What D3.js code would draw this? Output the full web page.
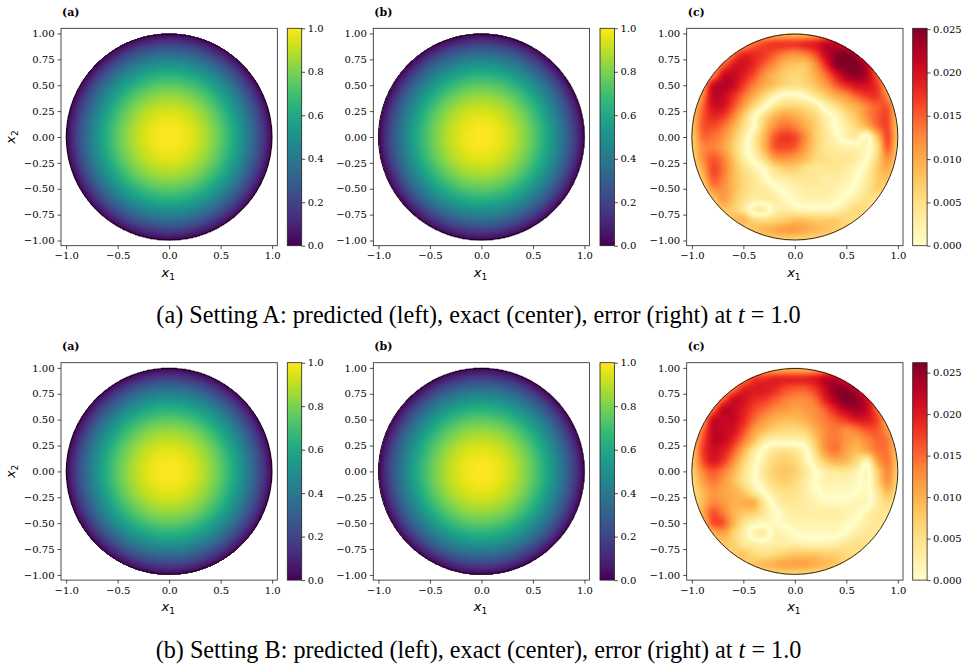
<!DOCTYPE html>
<html><head><meta charset="utf-8">
<script src="https://cdn.jsdelivr.net/npm/d3@7"></script>
<style>body{margin:0;background:#fff}svg{display:block}</style>
</head><body>
<script>
// ---------------- data ----------------
const radii      = [0, 0.1, 0.2, 0.3, 0.4, 0.5, 0.6, 0.7, 0.8, 0.9, 1.0];
const predictedA = [1.0, 0.99, 0.96, 0.91, 0.84, 0.75, 0.64, 0.51, 0.36, 0.19, 0.0];
const exactA     = [1.0, 0.99, 0.96, 0.91, 0.84, 0.75, 0.64, 0.51, 0.36, 0.19, 0.0];
const predictedB = [1.0, 0.99, 0.96, 0.91, 0.84, 0.75, 0.64, 0.51, 0.36, 0.19, 0.0];
const exactB     = [1.0, 0.99, 0.96, 0.91, 0.84, 0.75, 0.64, 0.51, 0.36, 0.19, 0.0];

const gridX = [-1.0,-0.9,-0.8,-0.7,-0.6,-0.5,-0.4,-0.3,-0.2,-0.1,0.0,0.1,0.2,0.3,0.4,0.5,0.6,0.7,0.8,0.9,1.0];
const gridY = [1.0,0.9,0.8,0.7,0.6,0.5,0.4,0.3,0.2,0.1,0.0,-0.1,-0.2,-0.3,-0.4,-0.5,-0.6,-0.7,-0.8,-0.9,-1.0];
const errorUnit = 0.001;
// signed pointwise error (x 1e-3), rows follow gridY, columns follow gridX
const errorA = [
 [6,6,6,6,7,8,8,9,9,9,9,9,10,11,12,13,13,12,10,8,6],
 [6,6,6,7,8,10,14,16,17,17,17,18,19,21,21,18,14,12,10,8,6],
 [6,6,7,8,14,18,18,17,15,13,12,13,16,21,24,25,22,15,10,8,6],
 [6,7,9,14,19,20,18,15,12,9,8,8,12,18,24,25,25,21,12,8,6],
 [6,8,12,20,21,19,16,12,9,7,6,7,10,14,19,23,24,22,15,9,6],
 [7,10,20,22,21,17,13,10,8,6,5,6,8,11,15,18,20,20,17,10,7],
 [6,12,21,21,18,14,10,6,2,-1,-1,1,4,7,10,12,15,17,17,12,7],
 [7,14,20,20,16,11,6,1,-4,-6,-6,-5,-3,2,5,8,10,13,15,15,8],
 [8,15,18,17,13,7,1,-5,-9,-11,-10,-8,-6,-2,1,5,8,12,15,16,8],
 [8,15,16,14,10,5,0,-7,-12,-14,-13,-10,-7,-3,0,3,6,9,14,16,8],
 [7,14,14,12,8,3,-3,-9,-15,-17,-16,-12,-7,-4,-1,2,3,-1,8,16,8],
 [7,12,13,11,7,2,-3,-9,-15,-16,-15,-11,-7,-4,-3,-2,-2,-1,5,15,7],
 [6,12,15,13,8,3,-1,-6,-11,-12,-11,-9,-6,-5,-4,-4,-3,0,6,12,7],
 [5,10,16,14,9,5,2,-1,-5,-7,-7,-5,-4,-4,-4,-3,-1,2,7,10,5],
 [4,8,15,13,9,6,4,1,-2,-3,-4,-4,-4,-3,-3,-2,0,3,7,8,4],
 [3,5,12,12,9,6,4,3,1,-1,-2,-3,-3,-3,-2,-1,1,4,7,5,3],
 [3,4,7,11,8,5,3,3,3,1,-1,-2,-2,-2,-1,1,3,5,4,3,3],
 [3,4,5,8,7,4,-2,-3,2,3,2,1,1,1,2,4,6,5,4,3,3],
 [3,4,5,6,8,9,6,5,6,7,8,8,7,7,7,6,5,5,4,3,3],
 [3,3,4,4,5,6,8,9,10,11,11,10,9,8,7,6,5,4,4,3,3],
 [3,3,3,3,4,4,5,5,6,6,6,6,5,5,5,4,4,3,3,3,3]
];
const errorB = [
 [6,6,6,6,7,8,9,9,9,9,9,9,10,11,12,13,13,12,10,8,6],
 [6,6,6,7,9,12,17,18,19,19,19,19,20,22,22,18,14,12,10,8,6],
 [6,6,7,9,14,19,20,20,19,17,16,16,18,22,25,25,22,15,10,8,6],
 [6,7,9,15,21,21,19,18,16,14,13,13,15,20,24,26,25,21,12,8,6],
 [6,8,14,22,22,20,17,15,13,12,11,12,13,16,20,23,24,22,15,9,6],
 [6,10,21,22,22,19,15,12,10,9,9,10,12,14,16,18,20,20,17,10,7],
 [7,14,22,22,21,17,12,9,7,6,6,7,10,13,14,13,14,16,16,12,7],
 [8,16,22,22,19,14,9,4,2,2,2,3,8,13,14,12,11,13,15,14,8],
 [8,17,21,20,16,10,4,-1,-4,-5,-4,-1,6,12,14,11,9,11,14,14,8],
 [8,16,20,18,13,7,2,-3,-6,-7,-6,-2,3,8,10,9,6,2,11,14,8],
 [7,13,16,14,10,5,1,-4,-7,-8,-7,-4,0,3,4,4,2,-1,7,13,7],
 [6,11,14,12,9,5,1,-3,-6,-7,-6,-3,0,2,2,2,1,-1,6,12,6],
 [5,9,12,11,10,8,4,0,-4,-5,-5,-3,-1,1,1,1,0,-1,4,9,5],
 [5,9,13,12,10,10,10,4,-1,-4,-4,-3,-2,-1,-1,-1,-2,-1,3,6,4],
 [4,10,16,14,10,8,7,4,1,-2,-3,-3,-3,-3,-3,-2,-1,2,4,4,3],
 [4,8,16,16,10,5,2,1,1,-1,-2,-2,-2,-2,-2,-1,1,3,4,3,3],
 [3,5,9,11,7,3,-2,-3,2,2,0,-1,-1,-1,-1,1,3,4,4,3,3],
 [3,4,5,8,7,4,3,2,3,3,3,2,2,2,3,4,5,5,4,3,3],
 [3,4,5,6,7,8,6,5,6,7,8,8,8,7,7,6,5,5,4,3,3],
 [3,3,4,4,5,6,8,9,10,11,11,11,10,9,8,6,5,4,4,3,3],
 [3,3,3,3,4,4,5,5,6,6,6,6,5,5,5,4,4,3,3,3,3]
];
const errorMax = [0.0251, 0.0262];
const xTicks = [-1.0, -0.5, 0.0, 0.5, 1.0];
const yTicks = [-1.0, -0.75, -0.5, -0.25, 0.0, 0.25, 0.5, 0.75, 1.0];
const solTicks = [0.0, 0.2, 0.4, 0.6, 0.8, 1.0];
const errTicks = [0.000, 0.005, 0.010, 0.015, 0.020, 0.025];
const panelTitles = ["(a)", "(b)", "(c)"];
const captions = [
  "(a) Setting A: predicted (left), exact (center), error (right) at ",
  "(b) Setting B: predicted (left), exact (center), error (right) at "
];
const captionTail = ["t", " = 1.0"];

// ---------------- layout ----------------
const W = 968, H = 666;
const rowTop = [28.3, 362.7];
const boxH = 217.4, boxW = 216.3;
const boxLeft = [61, 373.3, 686.7];
const cbLeft = [287.3, 600, 912.7], cbW = 14.4;
const lim = 1.05;

const svg = d3.select("body").append("svg").attr("width", W).attr("height", H)
  .style("font-family", "'DejaVu Serif', serif");

function cr(p0,p1,p2,p3,t){
  return p1 + 0.5*t*(p2-p0 + t*(2*p0-5*p1+4*p2-p3 + t*(3*(p1-p2)+p3-p0)));
}
function gridValue(grid, x, y){
  const fx = (x - gridX[0])/(gridX[1]-gridX[0]);
  const fy = (gridY[0] - y)/(gridY[0]-gridY[1]);
  const i = Math.floor(fx), j = Math.floor(fy);
  const tx = fx - i, ty = fy - j;
  const n = gridX.length, m = gridY.length;
  const g = (jj, ii) => grid[Math.max(0, Math.min(m-1, jj))][Math.max(0, Math.min(n-1, ii))];
  const rows = [];
  for (let dj=-1; dj<=2; dj++){
    rows.push(cr(g(j+dj,i-1), g(j+dj,i), g(j+dj,i+1), g(j+dj,i+2), tx));
  }
  return cr(rows[0], rows[1], rows[2], rows[3], ty);
}
function profileValue(vals, r){
  const f = r/(radii[1]-radii[0]);
  const i = Math.min(radii.length-2, Math.floor(f));
  const t = f - i;
  return vals[i]*(1-t) + vals[i+1]*t;
}

function drawDisk(g, xS, yS, left, top, valueAt, color){
  const w = Math.round(boxW), h = Math.round(boxH);
  const cv = document.createElement("canvas");
  cv.width = w; cv.height = h;
  const ctx = cv.getContext("2d");
  const img = ctx.createImageData(w, h);
  for (let py=0; py<h; py++){
    for (let px=0; px<w; px++){
      const x = xS.invert(left+px+0.5), y = yS.invert(top+py+0.5);
      const r = Math.hypot(x, y);
      if (r > 1.0) continue;
      const c = d3.rgb(color(valueAt(x, y, r)));
      const k = (py*w+px)*4;
      img.data[k]=c.r; img.data[k+1]=c.g; img.data[k+2]=c.b; img.data[k+3]=255;
    }
  }
  ctx.putImageData(img, 0, 0);
  g.append("image").attr("x", left).attr("y", top).attr("width", w).attr("height", h)
    .attr("href", cv.toDataURL());
  g.append("circle").attr("cx", xS(0)).attr("cy", yS(0)).attr("r", xS(1)-xS(0))
    .attr("fill", "none").attr("stroke", "#000").attr("stroke-width", 0.8);
}

function drawColorbar(g, left, top, height, scale, ticks, fmt, interp){
  const w = Math.round(cbW), h = Math.round(height);
  const cv = document.createElement("canvas");
  cv.width = w; cv.height = h;
  const ctx = cv.getContext("2d");
  for (let py=0; py<h; py++){
    ctx.fillStyle = interp(scale.invert(top + py + 0.5));
    ctx.fillRect(0, py, w, 1);
  }
  g.append("image").attr("x", left).attr("y", top).attr("width", cbW).attr("height", height)
    .attr("preserveAspectRatio", "none").attr("href", cv.toDataURL());
  g.append("rect").attr("x", left).attr("y", top).attr("width", cbW).attr("height", height)
    .attr("fill", "none").attr("stroke", "#222").attr("stroke-width", 0.8);
  const ax = g.append("g").attr("transform", `translate(${left+cbW},0)`)
    .call(d3.axisRight(scale).tickValues(ticks).tickFormat(fmt).tickSize(3.5).tickPadding(2.5).tickSizeOuter(0));
  styleAxis(ax);
}

function styleAxis(ax){
  ax.select(".domain").remove();
  ax.selectAll(".tick line").attr("stroke", "#222").attr("stroke-width", 0.8);
  ax.selectAll(".tick text").attr("font-family", "'DejaVu Serif', serif").attr("font-size", 10).attr("fill", "#000");
}

const solInterp = t => d3.interpolateViridis(Math.max(0, Math.min(1, t)));

for (let row=0; row<2; row++){
  const top = rowTop[row];
  const errGrid = row === 0 ? errorA : errorB;
  const fields = row === 0 ? [predictedA, exactA] : [predictedB, exactB];
  for (let col=0; col<3; col++){
    const left = boxLeft[col];
    const g = svg.append("g");
    const xS = d3.scaleLinear().domain([-lim, lim]).range([left, left+boxW]);
    const yS = d3.scaleLinear().domain([-lim, lim]).range([top+boxH, top]);
    const cS = d3.scaleLinear().range([top+boxH, top]);
    if (col < 2){
      cS.domain([0, 1]);
      const vals = fields[col];
      drawDisk(g, xS, yS, left, top, (x,y,r) => profileValue(vals, r), v => solInterp(v));
      drawColorbar(g, cbLeft[col], top, boxH, cS, solTicks, d3.format(".1f"), v => solInterp(v));
    } else {
      const mx = errorMax[row];
      cS.domain([0, mx]);
      const ci = v => d3.interpolateYlOrRd(Math.max(0, Math.min(1, v/mx)));
      drawDisk(g, xS, yS, left, top, (x,y) => Math.abs(gridValue(errGrid, x, y))*errorUnit, ci);
      drawColorbar(g, cbLeft[col], top, boxH, cS, errTicks, d3.format(".3f"), ci);
    }
    // frame
    g.append("rect").attr("x", left).attr("y", top).attr("width", boxW).attr("height", boxH)
      .attr("fill", "none").attr("stroke", "#222").attr("stroke-width", 0.8);
    const axB = g.append("g").attr("transform", `translate(0,${top+boxH})`)
      .call(d3.axisBottom(xS).tickValues(xTicks).tickFormat(d3.format(".1f")).tickSize(3.5).tickPadding(3).tickSizeOuter(0));
    styleAxis(axB);
    const axL = g.append("g").attr("transform", `translate(${left},0)`)
      .call(d3.axisLeft(yS).tickValues(yTicks).tickFormat(d3.format(".2f")).tickSize(3.5).tickPadding(3).tickSizeOuter(0));
    styleAxis(axL);
    // x1 label
    const xl = g.append("text").attr("x", left + boxW/2 - 1).attr("y", top + boxH + 31)
      .attr("text-anchor", "middle").attr("font-family", "'DejaVu Sans', sans-serif").attr("font-size", 13);
    xl.append("tspan").attr("font-style", "italic").text("x");
    xl.append("tspan").attr("font-size", 9).attr("dy", 3).text("1");
    if (col === 0){
      const yl = g.append("text").attr("transform", `translate(${left-46},${top+boxH/2}) rotate(-90)`)
        .attr("text-anchor", "middle").attr("font-family", "'DejaVu Sans', sans-serif").attr("font-size", 13);
      yl.append("tspan").attr("font-style", "italic").text("x");
      yl.append("tspan").attr("font-size", 9).attr("dy", 3).text("2");
    }
    g.append("text").attr("x", left + 1).attr("y", top - 12.5)
      .attr("font-family", "'DejaVu Serif', serif").attr("font-weight", "bold").attr("font-size", 11)
      .text(panelTitles[col]);
  }
  const cap = svg.append("text").attr("x", 478.5).attr("y", top + boxH + 77.6)
    .attr("text-anchor", "middle").attr("font-family", "'Liberation Serif', 'Times New Roman', serif").attr("font-size", 24.2);
  cap.append("tspan").text(captions[row]);
  cap.append("tspan").attr("font-style", "italic").text(captionTail[0]);
  cap.append("tspan").text(captionTail[1]);
}
</script>
</body></html>
